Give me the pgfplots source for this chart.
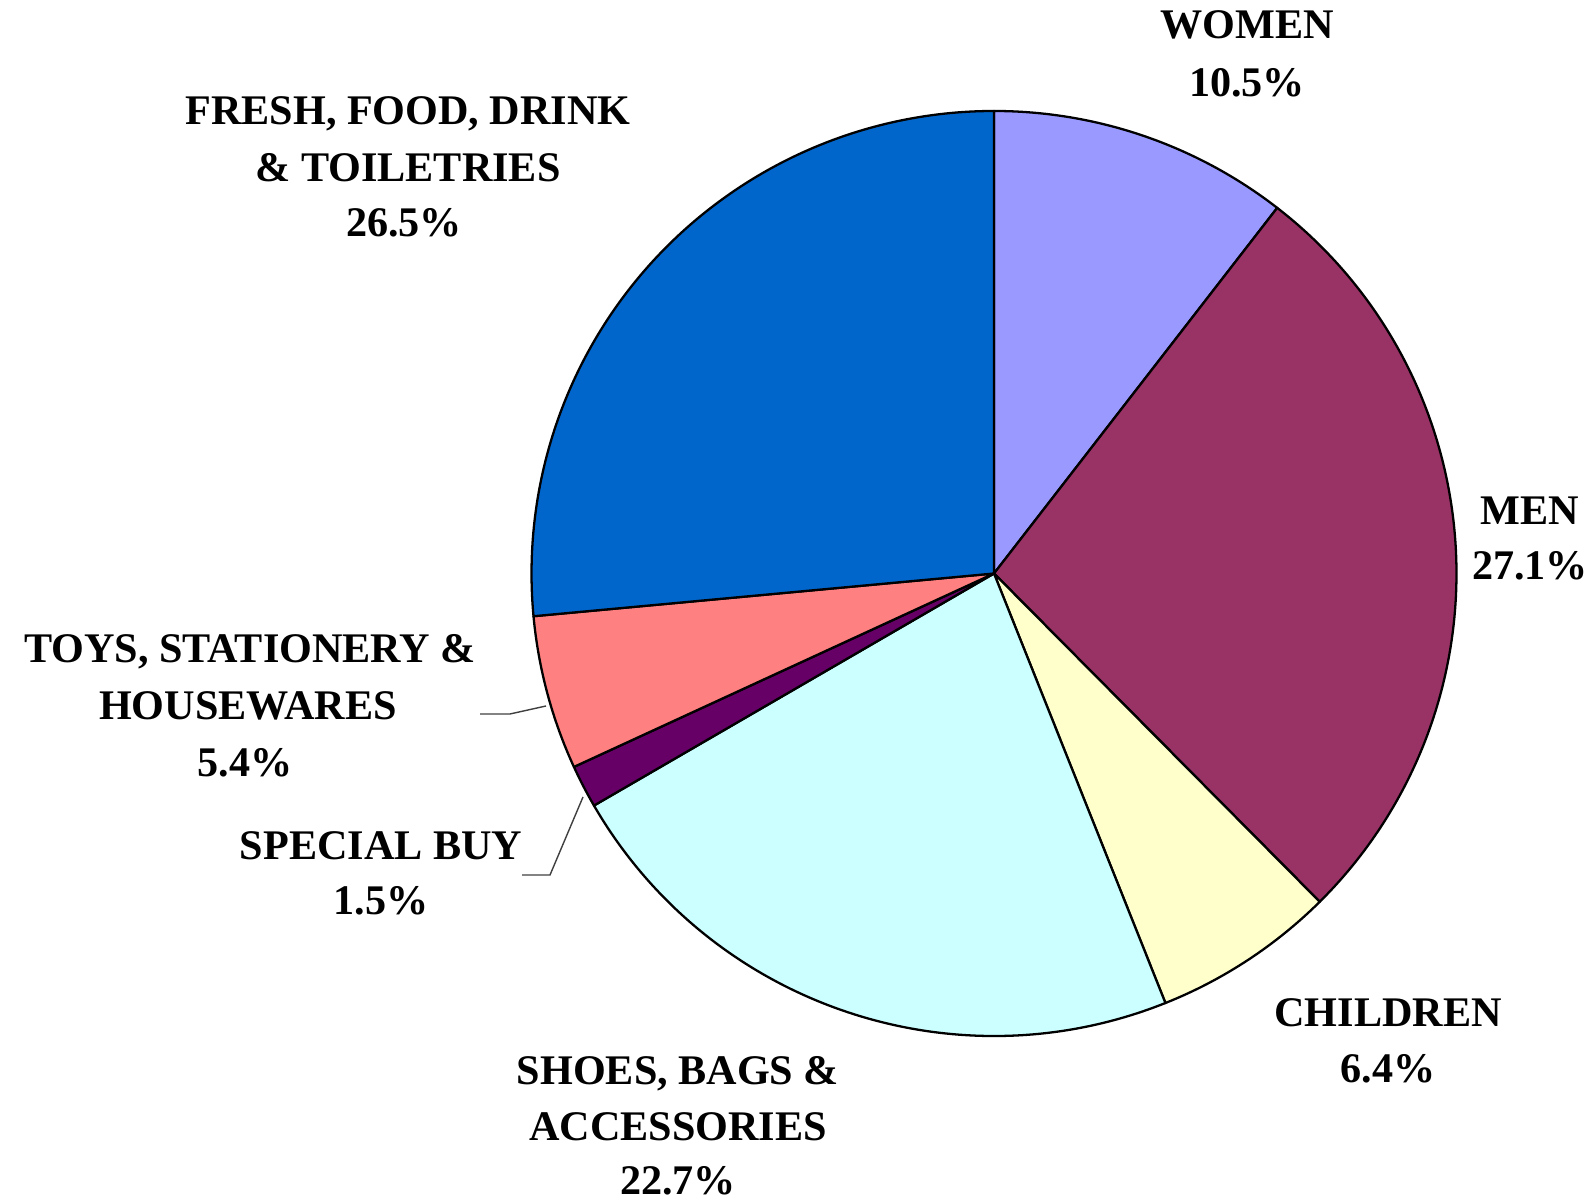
\documentclass[border=0pt]{standalone}
\usepackage{pgfplots}
\pgfplotsset{compat=1.18}
\usepackage{fontspec}
\setmainfont{Liberation Serif}
\definecolor{cWomen}{HTML}{9999FF}
\definecolor{cMen}{HTML}{993366}
\definecolor{cChild}{HTML}{FFFFCC}
\definecolor{cShoes}{HTML}{CCFFFF}
\definecolor{cSpecial}{HTML}{660066}
\definecolor{cToys}{HTML}{FF8080}
\definecolor{cFresh}{HTML}{0066CC}
% shares (percent)
\def\vWomen{10.5}
\def\vMen{27.1}
\def\vChild{6.4}
\def\vShoes{22.7}
\def\vSpecial{1.5}
\def\vToys{5.4}
\def\vFresh{26.5}
\pgfmathsetmacro\f{360/(\vWomen+\vMen+\vChild+\vShoes+\vSpecial+\vToys+\vFresh)}
\pgfmathsetmacro\aA{90}
\pgfmathsetmacro\aB{\aA-\f*\vWomen}
\pgfmathsetmacro\aC{\aB-\f*\vMen}
\pgfmathsetmacro\aD{\aC-\f*\vChild}
\pgfmathsetmacro\aE{\aD-\f*\vShoes}
\pgfmathsetmacro\aF{\aE-\f*\vSpecial}
\pgfmathsetmacro\aG{\aF-\f*\vToys}
\pgfmathsetmacro\aH{-270}
\def\R{4.625cm}
\begin{document}
\begin{tikzpicture}
\begin{axis}[
  x=0.1mm, y=0.1mm,
  xmin=0, xmax=1588, ymin=0, ymax=1200,
  hide axis,
  clip=false,
]
\coordinate (BL) at (axis cs:0,0);
\coordinate (TR) at (axis cs:1588,1200);
\tikzset{slice/.style={draw=black, line width=0.65pt, line join=round}}
\filldraw[slice, fill=cWomen] (axis cs:994,626.5) -- ++(\aA:\R) arc[start angle=\aA, end angle=\aB, radius=\R] -- cycle;
\filldraw[slice, fill=cMen] (axis cs:994,626.5) -- ++(\aB:\R) arc[start angle=\aB, end angle=\aC, radius=\R] -- cycle;
\filldraw[slice, fill=cChild] (axis cs:994,626.5) -- ++(\aC:\R) arc[start angle=\aC, end angle=\aD, radius=\R] -- cycle;
\filldraw[slice, fill=cShoes] (axis cs:994,626.5) -- ++(\aD:\R) arc[start angle=\aD, end angle=\aE, radius=\R] -- cycle;
\filldraw[slice, fill=cSpecial] (axis cs:994,626.5) -- ++(\aE:\R) arc[start angle=\aE, end angle=\aF, radius=\R] -- cycle;
\filldraw[slice, fill=cToys] (axis cs:994,626.5) -- ++(\aF:\R) arc[start angle=\aF, end angle=\aG, radius=\R] -- cycle;
\filldraw[slice, fill=cFresh] (axis cs:994,626.5) -- ++(\aG:\R) arc[start angle=\aG, end angle=\aH, radius=\R] -- cycle;
% leader lines
\draw[line width=0.4pt, black!75] (axis cs:480,486) -- (axis cs:510,486) -- (axis cs:546,494);
\draw[line width=0.4pt, black!75] (axis cs:522,325) -- (axis cs:550,325) -- (axis cs:583,403);
% labels
\tikzset{lab/.style={anchor=base, inner sep=0pt, font=\fontsize{12}{16}\selectfont\bfseries}}
\node[lab] at (axis cs:1247,1161) {WOMEN};
\node[lab] at (axis cs:1247,1103) {10.5\%};
\node[lab] at (axis cs:1530,675) {MEN};
\node[lab] at (axis cs:1530,620) {27.1\%};
\node[lab] at (axis cs:1388,173) {CHILDREN};
\node[lab] at (axis cs:1388,117) {6.4\%};
\node[lab] at (axis cs:678,115) {SHOES, BAGS \&};
\node[lab] at (axis cs:678,59) {ACCESSORIES};
\node[lab] at (axis cs:678,5) {22.7\%};
\node[lab] at (axis cs:381,340) {SPECIAL BUY};
\node[lab] at (axis cs:381,285) {1.5\%};
\node[lab] at (axis cs:250,537) {TOYS, STATIONERY \&};
\node[lab] at (axis cs:248,480) {HOUSEWARES};
\node[lab] at (axis cs:245,423) {5.4\%};
\node[lab] at (axis cs:408,1075) {FRESH, FOOD, DRINK};
\node[lab] at (axis cs:408,1018) {\& TOILETRIES};
\node[lab] at (axis cs:404,963) {26.5\%};
\end{axis}
\pgfresetboundingbox
\useasboundingbox (BL) rectangle (TR);
\end{tikzpicture}
\end{document}
